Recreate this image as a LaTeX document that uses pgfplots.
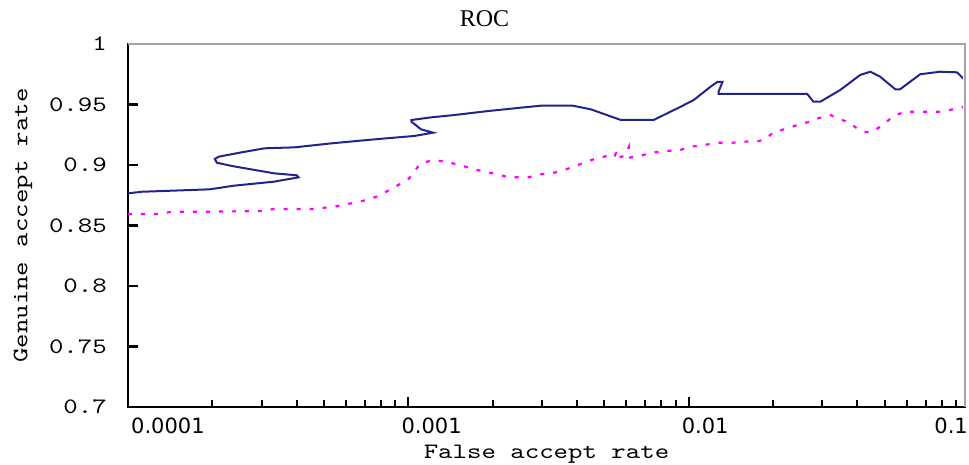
\documentclass[border=0pt]{standalone}
\usepackage{fontspec}
\setmainfont{Liberation Serif}
\newfontfamily\labfont[FakeStretch=1.25]{lmmono10-regular.otf}
\newfontfamily\tickfont{DejaVu Sans}
\usepackage{pgfplots}
\pgfplotsset{compat=1.18}
\definecolor{rocblue}{RGB}{35,35,140}
\definecolor{rocmag}{RGB}{255,0,255}
\definecolor{boxgray}{RGB}{165,165,165}
\begin{document}
\begin{tikzpicture}
  \begin{axis}[
    xmode=log, scale only axis, width=837pt, height=363pt,
    xmin=1e-4, xmax=0.0968, ymin=0.7, ymax=1,
    axis line style={line width=2.2pt, black},
    tick align=inside, major tick length=10pt, minor tick length=7pt,
    xtick pos=bottom, ytick pos=left,
    major tick style={black, line width=2.2pt},
    minor tick style={black, line width=2pt},
    xtick={1e-4,1e-3,1e-2},
    minor xtick={2e-4,3e-4,4e-4,5e-4,6e-4,7e-4,8e-4,9e-4,
      2e-3,3e-3,4e-3,5e-3,6e-3,7e-3,8e-3,9e-3,
      2e-2,3e-2,4e-2,5e-2,6e-2,7e-2,8e-2,9e-2},
    xticklabels={\hspace*{10pt}0.0001,0.001,0.01},
    xticklabel style={font=\tickfont\fontsize{21}{24}\selectfont, anchor=north west,
      inner sep=0pt, xshift=-7pt, yshift=-11pt},
    ytick={0.7,0.75,0.8,0.85,0.9,0.95,1},
    yticklabels={0.7,0.75,0.8,0.85,0.9,0.95,1},
    yticklabel style={font=\labfont\fontsize{22}{24}\selectfont, anchor=east,
      inner sep=0pt, xshift=-21pt},
    title={ROC},
    title style={at={(rel axis cs:0.426,1)}, anchor=base, inner sep=0pt, yshift=12pt,
      font=\fontsize{24}{26}\selectfont},
    xlabel={False accept rate},
    xlabel style={at={(rel axis cs:0.5,0)}, anchor=north, inner sep=0pt, yshift=-38pt,
      font=\labfont\fontsize{22}{24}\selectfont},
    ylabel={Genuine accept rate},
    ylabel style={at={(rel axis cs:0,0.5)}, anchor=center, inner sep=0pt, yshift=105pt,
      font=\labfont\fontsize{22}{24}\selectfont},
    after end axis/.code={
      \draw[white, line width=3pt] (rel axis cs:0.003,1) -- (rel axis cs:1,1) -- (rel axis cs:1,0.006);
      \draw[boxgray, line width=2pt] (rel axis cs:0,1) -- (rel axis cs:1,1) -- (rel axis cs:1,0);
      \node[anchor=north east, inner sep=0pt, xshift=3pt, yshift=-11pt,
        font=\tickfont\fontsize{21}{24}\selectfont] at (rel axis cs:1,0) {0.1};
    },
  ]
    % genuine curve, solid
    \addplot[rocblue, line width=2pt] coordinates {
      (1.0e-4,0.8766) (1.122e-4,0.8779) (1.959e-4,0.8799) (2.384e-4,0.8829)
      (3.311e-4,0.8862) (4.06e-4,0.8898) (4.0e-4,0.8915) (3.33e-4,0.8931)
      (2.83e-4,0.8959) (2.344e-4,0.8992) (2.075e-4,0.9019) (2.04e-4,0.9050)
      (2.11e-4,0.9069) (2.547e-4,0.9105) (3.07e-4,0.9138) (3.93e-4,0.9146)
      (5.32e-4,0.9179) (7.57e-4,0.9212) (1.05e-3,0.9240) (1.227e-3,0.9267)
      (1.11e-3,0.9295) (1.026e-3,0.9358) (1.026e-3,0.9372) (1.208e-3,0.9394)
      (1.459e-3,0.9413) (1.928e-3,0.9446) (2.524e-3,0.9474) (2.97e-3,0.9490)
      (3.86e-3,0.9490) (4.48e-3,0.9460) (5.73e-3,0.9372) (7.50e-3,0.9372)
      (9.37e-3,0.9482) (1.043e-2,0.9537) (1.197e-2,0.9647) (1.268e-2,0.9688)
      (1.321e-2,0.9688) (1.279e-2,0.9606) (1.279e-2,0.9587) (2.65e-2,0.9587)
      (2.786e-2,0.9523) (2.95e-2,0.9523) (3.475e-2,0.9620) (4.09e-2,0.9744)
      (4.45e-2,0.9771) (4.82e-2,0.9730) (5.46e-2,0.9626) (5.68e-2,0.9626)
      (6.70e-2,0.9750) (7.89e-2,0.9771) (9.06e-2,0.9766) (9.68e-2,0.9702)
    };
    % second curve, dotted
    \addplot[rocmag, line width=2.2pt, dash pattern=on 4pt off 9pt] coordinates {
      (1.0e-4,0.8595) (1.30e-4,0.8595) (1.435e-4,0.8614) (1.959e-4,0.8614)
      (2.95e-4,0.8620) (3.311e-4,0.8636) (4.52e-4,0.8636) (5.41e-4,0.8655)
      (6.11e-4,0.8678) (6.92e-4,0.8705) (7.70e-4,0.8738) (8.56e-4,0.8793)
      (9.29e-4,0.8840) (1.008e-3,0.8890) (1.094e-3,0.9000) (1.11e-3,0.9014)
      (1.227e-3,0.9041) (1.365e-3,0.9027) (1.52e-3,0.9000) (1.676e-3,0.8973)
      (1.862e-3,0.8945) (2.055e-3,0.8926) (2.285e-3,0.8898) (2.673e-3,0.8898)
      (2.97e-3,0.8923) (3.31e-3,0.8936) (3.65e-3,0.8964) (4.03e-3,0.9000)
      (4.48e-3,0.9041) (4.99e-3,0.9069) (5.50e-3,0.9097) (5.40e-3,0.9050)
      (5.90e-3,0.9075) (6.12e-3,0.9149) (6.12e-3,0.9060) (6.64e-3,0.9074)
      (7.45e-3,0.9102) (8.28e-3,0.9118) (9.14e-3,0.9118) (1.017e-2,0.9151)
      (1.13e-2,0.9165) (1.279e-2,0.9184) (1.435e-2,0.9184) (1.597e-2,0.9193)
      (1.775e-2,0.9198) (1.88e-2,0.9212) (2.005e-2,0.9270) (2.25e-2,0.9303)
      (2.505e-2,0.9339) (2.786e-2,0.9364) (2.90e-2,0.9386) (3.20e-2,0.9413)
      (3.42e-2,0.9386) (3.77e-2,0.9345) (4.09e-2,0.9283) (4.45e-2,0.9267)
      (4.94e-2,0.9331) (5.37e-2,0.9405) (5.92e-2,0.9440) (6.86e-2,0.9440)
      (8.07e-2,0.9440) (9.06e-2,0.9469) (9.68e-2,0.9482)
    };
  \end{axis}
  \pgfresetboundingbox
  \path[use as bounding box] (-128pt,-57pt) rectangle (841pt,407pt);
\end{tikzpicture}
\end{document}
